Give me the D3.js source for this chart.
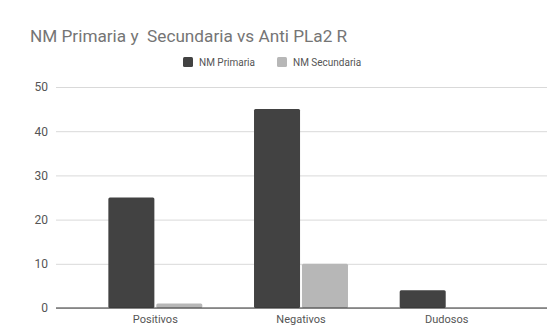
<!DOCTYPE html>
<html><head><meta charset="utf-8">
<script src="https://cdn.jsdelivr.net/npm/d3@7"></script>
<style>body{margin:0;background:#fff}svg{display:block;font-family:Roboto,"Noto Sans",sans-serif}</style>
</head><body><svg id="c" width="555" height="334"></svg>
<script>
const categories = ["Positivos", "Negativos", "Dudosos"];
const seriesNames = ["NM Primaria", "NM Secundaria"];
const primaria = [25, 45, 4];
const secundaria = [1, 10, 0];
const yTicks = [0, 10, 20, 30, 40, 50];
const colors = ["#424242", "#b7b7b7"];

(function () {
const svg = d3.select("#c");
const pLeft = 56, pRight = 547, pTop = 87, pBottom = 308;
const y = d3.scaleLinear().domain([0, 50]).range([pBottom, pTop]);
const x = d3.scaleBand().domain(categories).range([82.5, 519.5]).paddingInner(0.355).paddingOuter(0.1775);
const xs = d3.scaleBand().domain(seriesNames).range([0, x.bandwidth()]).paddingInner(0.04);

svg.append("text").attr("x", 30).attr("y", 42).attr("font-size", 17.2).attr("fill", "#757575")
  .style("white-space", "pre")
  .text("NM Primaria y  Secundaria vs Anti PLa2 R");

// legend
const legend = [{name: seriesNames[0], x: 183}, {name: seriesNames[1], x: 277}];
legend.forEach((l, i) => {
  svg.append("rect").attr("x", l.x).attr("y", 57).attr("width", 10).attr("height", 10).attr("rx", 1.5).attr("fill", colors[i]);
  svg.append("text").attr("x", l.x + 16).attr("y", 66).attr("font-size", 10).attr("fill", "#555").text(l.name);
});

// grid
const yAxis = d3.axisLeft(y).tickValues(yTicks).tickSize(-(pRight - pLeft)).tickPadding(8);
const ga = svg.append("g").attr("transform", `translate(${pLeft},0)`).call(yAxis);
ga.select(".domain").remove();
ga.selectAll(".tick line").attr("stroke", "#d9d9d9");
ga.selectAll(".tick text").attr("font-size", 12).attr("fill", "#555").attr("font-family", "Roboto,sans-serif");

const data = categories.map((c, i) => ({cat: c, vals: [primaria[i], secundaria[i]]}));
const g = svg.append("g");
data.forEach(d => {
  d.vals.forEach((v, j) => {
    if (v <= 0) return;
    g.append("rect").attr("x", x(d.cat) + xs(seriesNames[j])).attr("y", y(v))
      .attr("width", xs.bandwidth()).attr("height", y(0) - y(v)).attr("rx", 1.5)
      .attr("fill", colors[j]);
  });
});

// baseline
svg.append("line").attr("x1", pLeft).attr("x2", pRight).attr("y1", y(0)).attr("y2", y(0)).attr("stroke", "#333").attr("stroke-width", 1);

// x labels
const xAxis = d3.axisBottom(x).tickSize(0).tickPadding(7);
const gx = svg.append("g").attr("transform", `translate(0,${pBottom})`).call(xAxis);
gx.select(".domain").remove();
gx.selectAll(".tick text").attr("font-size", 11).attr("fill", "#555").attr("font-family", "Roboto,sans-serif");
})();
</script></body></html>
